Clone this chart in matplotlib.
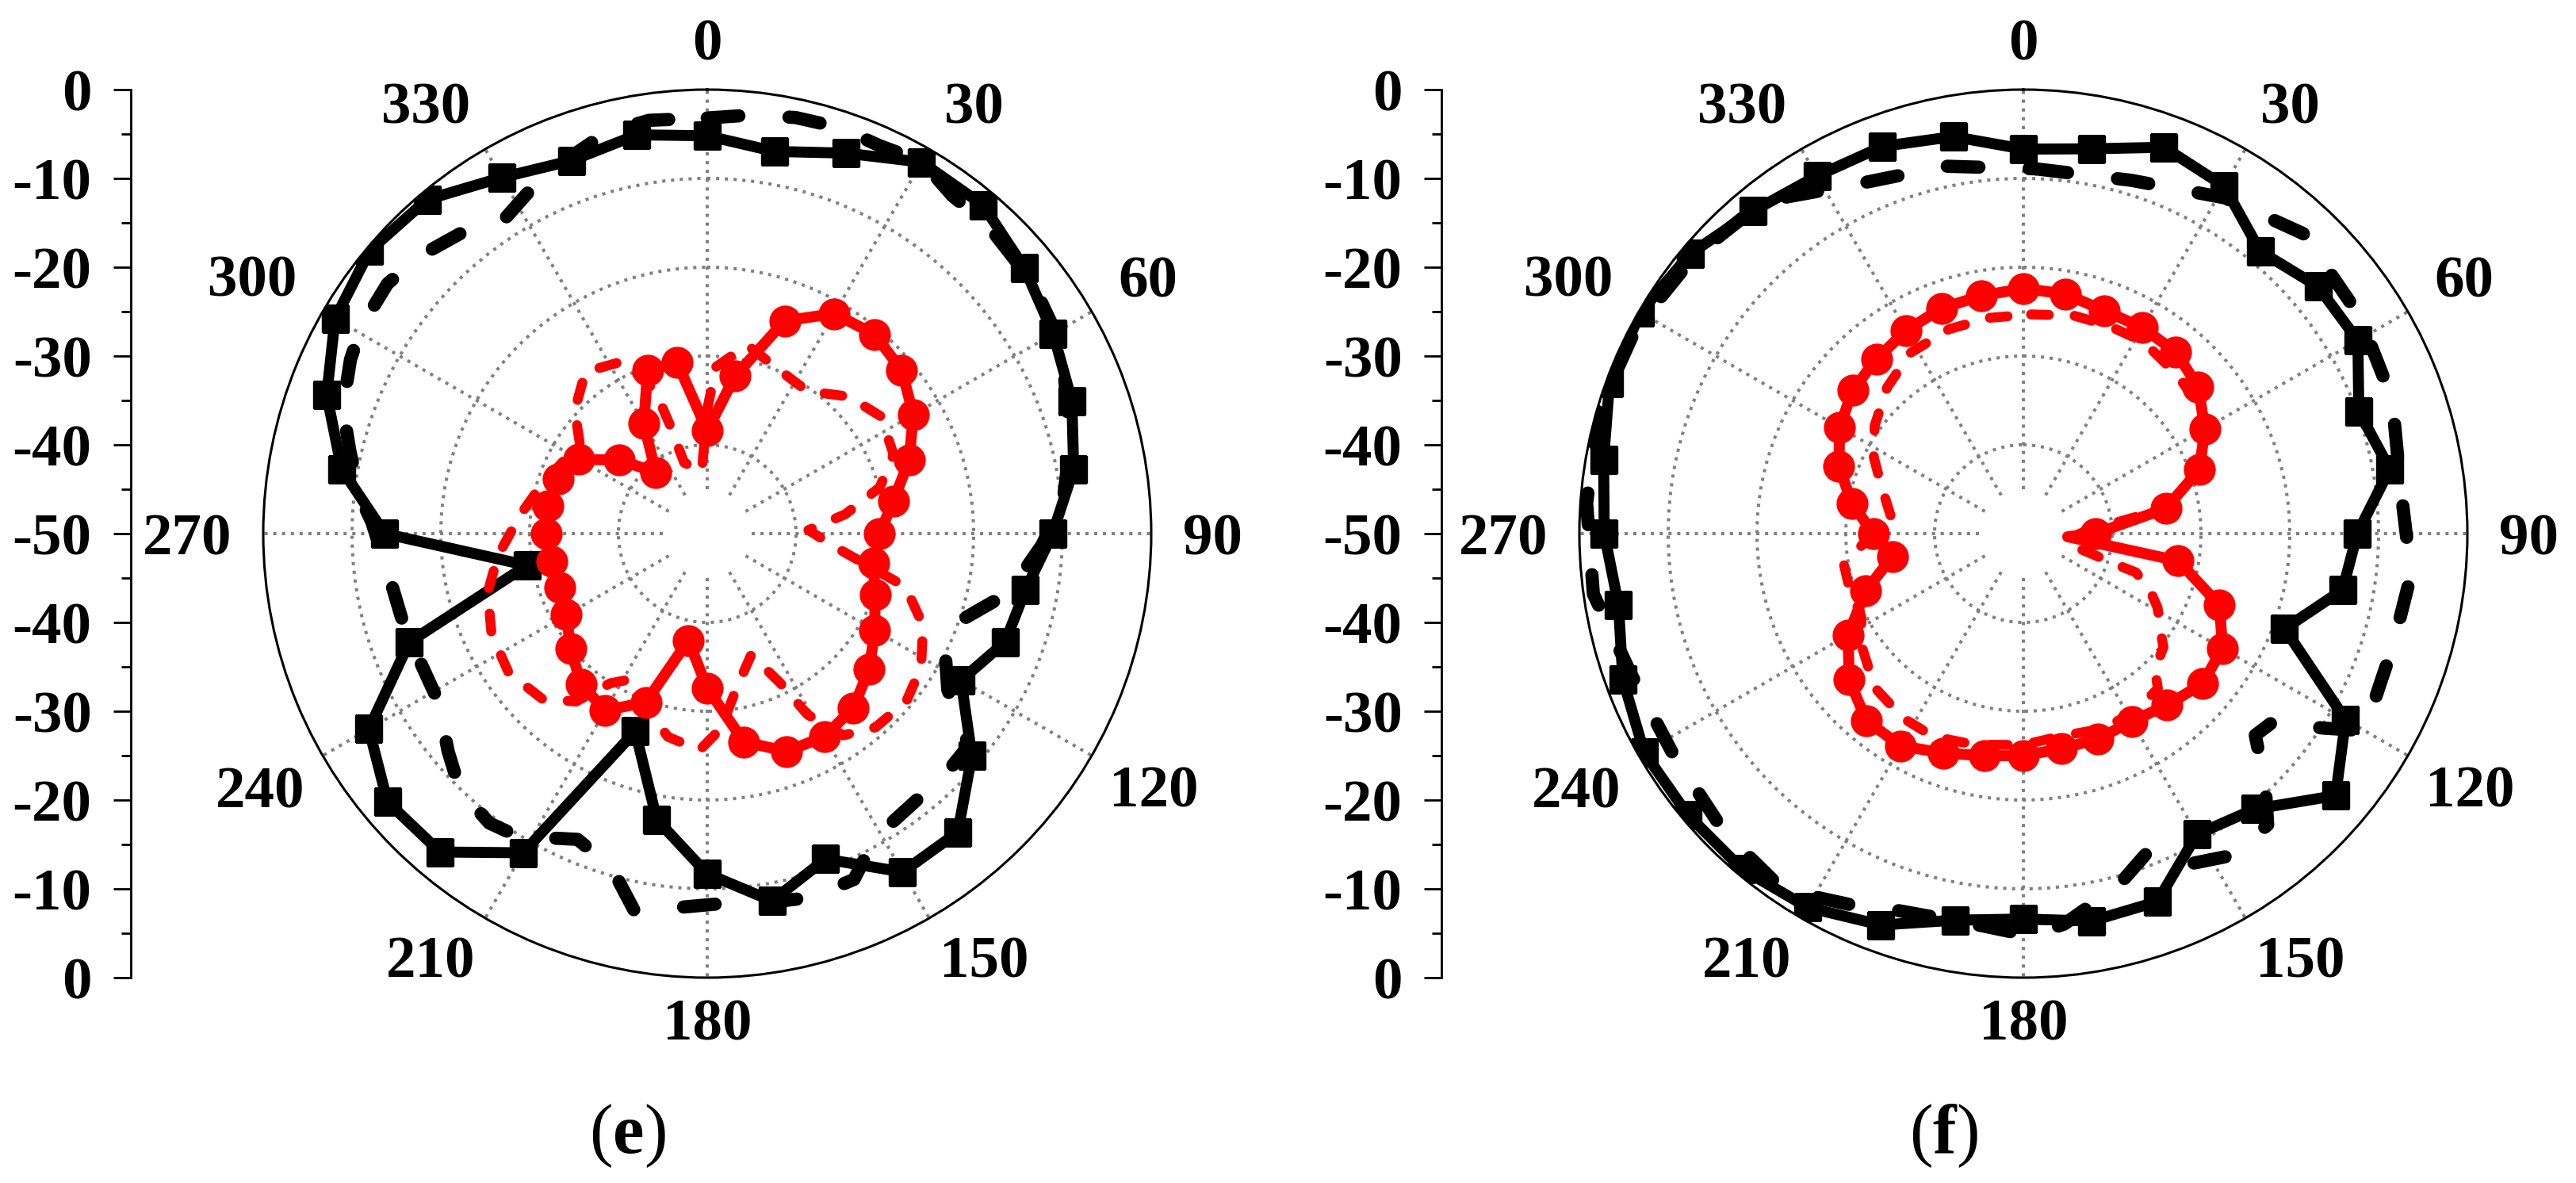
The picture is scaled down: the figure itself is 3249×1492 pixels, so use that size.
import numpy as np
import matplotlib
matplotlib.use('Agg')
import matplotlib.pyplot as plt

plt.rcParams['font.family'] = ['Liberation Serif', 'DejaVu Serif']
plt.rcParams['mathtext.fontset'] = 'custom'
plt.rcParams['mathtext.rm'] = 'Liberation Serif'
plt.rcParams['mathtext.bf'] = 'Liberation Serif:bold'

# ---- data (dB), angles in degrees, clockwise from top ----
ang10 = np.arange(0, 360, 10)

# (e)
e_black_solid = [-5.2, -6.3, -4.4, -1.7, -1.7, -3.4, -5.0, -6.3, -8.1, -11.1, -13.6, -14.3,
                 -17.0, -11.1, -6.1, -6.0, -11.0, -8.0, -11.7, -17.3, -26.3, -8.5, -3.2, -3.0,
                 -6.0, -14.3, -29.4, -13.7, -8.2, -4.4, -1.6, -0.4, -0.9, -3.7, -5.3, -4.4]
e_black_dash_ang = [0, 6, 12, 18, 24, 30, 36, 42, 52, 62, 70, 77, 85, 92, 98, 102, 108, 112, 117,
                    123, 129, 135, 144, 151, 157, 164, 171, 178, 185, 191, 196, 203, 212, 217, 224,
                    230, 238, 245, 254, 262, 272, 276, 283, 289, 296, 301, 308, 314, 321, 327, 334,
                    337, 346, 352]
e_black_dash = [-3.2, -2.6, -2.1, -1.9, -2.2, -1.6, -3.0, -3.0, -3.7, -4.8, -6.9, -8.1, -9.8, -12.3,
                -14.5, -16.0, -19.4, -20.3, -19.9, -17.7, -12.1, -11.9, -11.7, -10.9, -7.7, -7.4,
                -7.9, -8.3, -7.7, -6.8, -10.9, -12.6, -9.8, -9.2, -9.9, -11.9, -14.3, -14.6, -14.3,
                -13.9, -12.2, -10.7, -8.7, -6.6, -5.3, -4.6, -4.3, -5.0, -6.3, -7.9, -6.1, -5.4,
                -3.4, -3.0]
e_red_solid = [-38.4, -32.0, -24.5, -21.4, -20.7, -21.4, -23.2, -25.8, -28.7, -30.6, -31.0, -29.9,
               -28.2, -26.2, -24.4, -23.6, -23.9, -26.2, -32.6, -37.8, -29.8, -27.0, -27.9, -29.9,
               -31.7, -32.3, -32.2, -31.9, -31.8, -32.1, -33.3, -37.1, -41.0, -35.7, -30.4, -30.4]
e_red_dash_ang = [0, 3, 12, 23, 35, 46, 56, 67, 75, 82, 88, 96, 105, 113, 122, 130, 139, 146, 151,
                  154, 160, 169, 176, 182, 191, 200, 208, 213, 218, 225, 235, 245, 255, 264, 276,
                  286, 296, 305, 313, 323, 334, 340, 341, 342, 355]
e_red_dash = [-36.0, -31.2, -28.3, -29.8, -30.4, -27.8, -26.4, -27.2, -29.9, -34.3, -38.6, -35.5,
              -26.9, -23.6, -21.6, -20.7, -21.1, -22.6, -26.7, -31.3, -35.5, -32.4, -28.0, -25.6,
              -26.7, -29.5, -31.4, -29.9, -26.0, -23.7, -22.7, -23.2, -24.4, -26.3, -28.9, -30.5,
              -31.8, -32.5, -29.6, -27.2, -28.4, -32.9, -36.9, -41.6, -43.0]

# (f)
f_black_solid = [-6.7, -6.0, -3.7, -4.8, -8.5, -6.7, -6.5, -9.8, -8.1, -12.4, -13.5, -18.7,
                 -8.1, -4.1, -9.5, -10.9, -5.9, -5.7, -6.6, -5.8, -3.1, -1.4, -0.7, -0.7,
                 -0.7, -2.0, -3.7, -2.8, -2.0, -0.4, -0.2, -1.0, -2.6, -3.5, -3.6, -4.6]
f_black_dash_ang = [2, 17, 31, 43, 57, 70, 83, 96, 107, 113, 120, 123, 127, 131, 136, 140, 147,
                    153, 159, 165, 174, 179, 186, 199, 205, 214, 225, 238, 250, 262, 274, 286,
                    298, 310, 322, 334, 348]
f_black_dash = [-8.9, -8.4, -5.9, -3.8, -4.9, -5.8, -7.2, -6.1, -6.5, -6.4, -5.6, -9.8, -14.8,
                -15.4, -10.8, -7.2, -6.8, -8.3, -11.4, -8.9, -5.8, -4.7, -5.6, -5.2, -3.9, -1.6,
                -2.4, -3.4, -3.1, -1.1, -0.7, -0.2, -0.6, -1.5, -2.5, -6.3, -7.7]
f_red_solid_ang = [0, 10, 20, 30, 40, 50, 60, 70, 80, 90, 94, 100, 110, 120, 130, 140, 150, 160,
                   170, 180, 190, 200, 210, 220, 230, 240, 250, 260, 270, 280, 290, 300, 310,
                   320, 330, 340, 350]
f_red_solid = [-22.4, -22.6, -23.3, -23.2, -23.3, -24.3, -26.4, -28.9, -33.7, -41.9, -45.0,
               -32.3, -26.5, -24.1, -23.7, -24.8, -25.6, -25.4, -25.4, -25.0, -24.6, -23.7,
               -22.4, -22.5, -24.4, -27.2, -31.1, -35.0, -33.1, -30.4, -27.9, -26.1, -24.9,
               -24.3, -23.6, -23.0, -22.8]
f_red_dash_ang = [2, 13, 22, 32, 44, 52, 60, 70, 80, 88, 96, 105, 107, 108.5, 109, 114, 119, 125,
                  129, 136, 139, 148, 158, 170, 180, 193, 204, 213, 224, 235, 243, 254, 260, 266,
                  277, 284, 292, 297, 306, 317, 328, 340, 351]
f_red_dash = [-25.3, -24.8, -24.7, -24.5, -25.1, -25.5, -26.6, -29.0, -33.8, -43.1, -44.8, -43.5,
              -41.3, -38.8, -36.6, -34.4, -32.7, -31.2, -29.7, -28.7, -26.9, -26.3, -26.3, -26.8,
              -26.2, -25.6, -25.0, -25.2, -25.9, -27.8, -29.5, -29.5, -29.5, -31.8, -35.0, -34.0,
              -32.4, -31.1, -29.3, -27.5, -26.0, -25.5, -25.4]

theta_labels = [str(a) for a in range(0, 360, 30)]
side_ticks = [0, 10, 20, 30, 40, 50, 60, 70, 80, 90, 100]
side_labels = ['0', '-10', '-20', '-30', '-40', '-50', '-40', '-30', '-20', '-10', '0']

# ---- layout (pixels of a 3249x1492 canvas) ----
W, H = 3249, 1492
R_PX = 560
GRAY = '#808080'
DOT = (0, (1, 1.75))


def closed(a, v):
    a = list(a) + [a[0] + 360]
    v = list(v) + [v[0]]
    return np.deg2rad(a), np.array(v)


def setup_polar(cx, cy):
    ax = fig.add_axes([(cx - R_PX) / W, 1 - (cy + R_PX) / H, 2 * R_PX / W, 2 * R_PX / H],
                      projection='polar')
    ax.set_theta_zero_location('N')
    ax.set_theta_direction(-1)
    ax.set_ylim(-50, 0)
    ax.set_yticks([-40, -30, -20, -10])
    ax.set_yticklabels([])
    ax.yaxis.grid(True, color=GRAY, linestyle=DOT, linewidth=2.9)
    ax.set_xticks(np.deg2rad(np.arange(0, 360, 30)))
    ax.set_xticks(np.deg2rad(np.arange(15, 360, 30)), minor=True)
    ax.set_xticklabels([])
    ax.xaxis.grid(False)
    ax.tick_params(axis='x', which='major', direction='in', length=14, width=2, color='black')
    ax.tick_params(axis='x', which='minor', direction='in', length=8.5, width=2, color='black')
    ax.tick_params(axis='y', length=0)
    ax.spines['polar'].set_linewidth(2.2)
    # radial dotted lines (start a little off the centre like the original)
    for a in range(0, 360, 30):
        ax.plot([np.deg2rad(a)] * 2, [-45, 0], color=GRAY, linestyle=DOT, linewidth=2.9, zorder=1)
    # angle labels
    for a, lab in zip(range(0, 360, 30), theta_labels):
        s, c = np.sin(np.deg2rad(a)), np.cos(np.deg2rad(a))
        ha = 'center' if abs(s) < 0.1 else ('left' if s > 0 else 'right')
        if abs(c) < 0.1:
            va, gap = 'center_baseline', 40
        elif c > 0:
            va, gap = 'baseline', 38
        else:
            va, gap = 'top', 26
        r = -50 + 50 * (R_PX + gap) / R_PX
        ax.text(np.deg2rad(a), r, lab, ha=ha, va=va, fontsize=54, fontweight='bold',
                clip_on=False)
    return ax


def side_axis(x_px, cy):
    sa = fig.add_axes([x_px / W, 1 - (cy + R_PX) / H, 0.0005, 2 * R_PX / H])
    sa.set_ylim(0, 100)
    sa.set_xticks([])
    for sp in ['top', 'right', 'bottom']:
        sa.spines[sp].set_visible(False)
    sa.spines['left'].set_linewidth(2)
    sa.patch.set_visible(False)
    sa.set_yticks(side_ticks)
    sa.set_yticklabels(side_labels, fontsize=54, fontweight='bold')
    sa.set_yticks(np.arange(5, 100, 10), minor=True)
    sa.tick_params(axis='y', which='major', direction='out', length=15.5, width=2, pad=20)
    sa.tick_params(axis='y', which='minor', direction='out', length=8.5, width=2)
    return sa


def draw(ax, bs, bd_a, bd, rs_a, rs, rd_a, rd, mark_idx=None):
    t, v = closed(ang10, bs)
    ax.plot(t, v, color='black', linewidth=10, marker='s', markersize=24, markevery=slice(0, -1),
            solid_joinstyle='round', zorder=3)
    t, v = closed(bd_a, bd)
    ax.plot(t, v, color='black', linewidth=12, linestyle=(0, (2.4, 3.8)),
            dash_capstyle='round', zorder=4)
    t, v = closed(rs_a, rs)
    me = mark_idx if mark_idx is not None else slice(0, -1)
    ax.plot(t, v, color='#ff0000', linewidth=10, marker='o', markersize=28, markevery=me,
            solid_joinstyle='round', zorder=5)
    t, v = closed(rd_a, rd)
    ax.plot(t, v, color='#ff0000', linewidth=9, linestyle=(0, (1.8, 2.6)),
            dash_capstyle='round', zorder=6)


fig = plt.figure(figsize=(W / 100, H / 100), dpi=100)

ax_e = setup_polar(892, 673)
side_axis(165, 673)
draw(ax_e, e_black_solid, e_black_dash_ang, e_black_dash, ang10, e_red_solid,
     e_red_dash_ang, e_red_dash)

ax_f = setup_polar(2552, 673)
side_axis(1818, 673)
f_marks = [i for i, a in enumerate(f_red_solid_ang) if a % 10 == 0]
draw(ax_f, f_black_solid, f_black_dash_ang, f_black_dash, f_red_solid_ang, f_red_solid,
     f_red_dash_ang, f_red_dash, mark_idx=f_marks)

fig.text(791 / W, 1 - 1433 / H, r'($\mathbf{e}$)', fontsize=64, ha='center', va='center')
fig.text(2451 / W, 1 - 1433 / H, r'($\mathbf{f}$)', fontsize=64, ha='center', va='center')

fig.savefig('out.png', dpi=100, facecolor='white')
